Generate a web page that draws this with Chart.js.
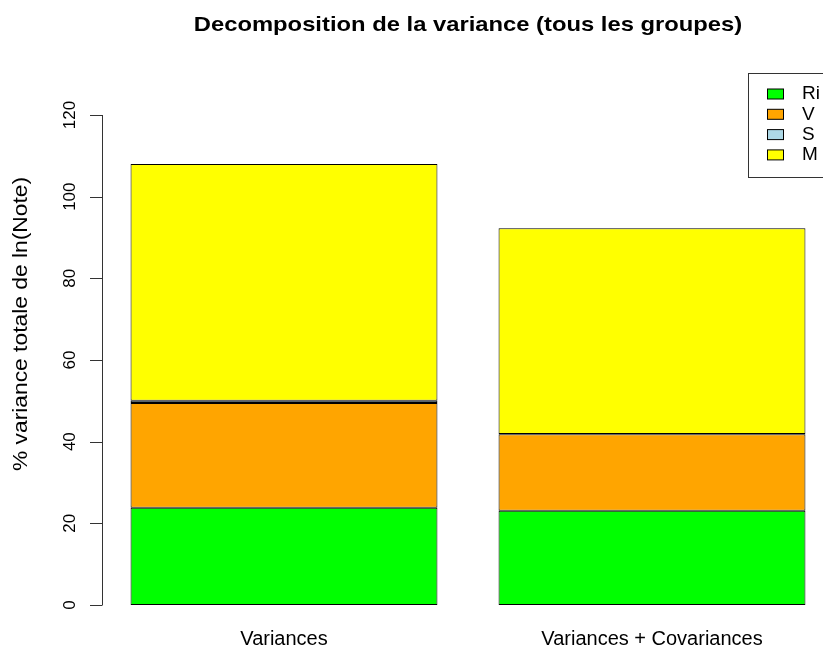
<!DOCTYPE html>
<html>
<head>
<meta charset="utf-8">
<script src="https://cdn.jsdelivr.net/npm/chart.js@4.4.1/dist/chart.umd.min.js"></script>
<style>
  html, body { margin: 0; padding: 0; background: #fff; overflow: hidden; }
  #wrap { width: 840px; height: 649px; }
</style>
</head>
<body>
<div id="wrap"><canvas id="chart" width="840" height="649"></canvas></div>
<script>
// Data
const categories = ["Variances", "Variances + Covariances"];
const seriesNames = ["Ri", "V", "S", "M"];
const riValues = [23.8, 23.1];
const vValues = [25.7, 18.7];
const sValues = [0.5, 0.05];
const mValues = [58.0, 50.4];
const seriesColors = ["#00FF00", "#FFA500", "#ADD8E6", "#FFFF00"];
const yTicks = [0, 20, 40, 60, 80, 100, 120];

const chartTitle = "Decomposition de la variance (tous les groupes)";
const yTitle = "% variance totale de ln(Note)";

const allValues = [riValues, vValues, sValues, mValues];
const fontFamily = "'Liberation Sans', Arial, sans-serif";

// draw text stretched along its own direction (the source image is a bit stretched)
function stretchedText(ctx, text, x, y, angle, stretch) {
  ctx.save();
  ctx.translate(x, y);
  ctx.rotate(angle);
  ctx.scale(stretch, 1);
  ctx.fillText(text, 0, 0);
  ctx.restore();
}

// R style y axis, title and legend drawn on the canvas
const rStylePlugin = {
  id: "rStyle",
  afterDraw(chart) {
    const ctx = chart.ctx;
    const area = chart.chartArea;
    const y = chart.scales.y;
    ctx.save();

    // title, centred over the plot region
    ctx.fillStyle = "#000";
    ctx.font = "bold 20.5px " + fontFamily;
    ctx.textAlign = "center";
    ctx.textBaseline = "middle";
    stretchedText(ctx, chartTitle, (area.left + area.right) / 2, 25, 0, 1.16);

    // y axis line and ticks
    const axisX = 102;
    ctx.strokeStyle = "#333";
    ctx.lineWidth = 1;
    ctx.beginPath();
    ctx.moveTo(axisX + 0.5, y.getPixelForValue(yTicks[0]));
    ctx.lineTo(axisX + 0.5, y.getPixelForValue(yTicks[yTicks.length - 1]));
    yTicks.forEach((t) => {
      const py = Math.round(y.getPixelForValue(t)) + 0.5;
      ctx.moveTo(axisX + 0.5, py);
      ctx.lineTo(axisX - 12, py);
    });
    ctx.stroke();

    // rotated tick labels
    ctx.font = "17px " + fontFamily;
    yTicks.forEach((t) => {
      stretchedText(ctx, String(t), 70, y.getPixelForValue(t), -Math.PI / 2, 1);
    });

    // y axis title
    ctx.font = "20px " + fontFamily;
    stretchedText(ctx, yTitle, 21, 324, -Math.PI / 2, 1.14);

    // legend box
    const lx = 748, ly = 73.5;
    ctx.strokeStyle = "#333";
    ctx.strokeRect(lx + 0.5, ly, 120, 104);
    ctx.font = "19px " + fontFamily;
    ctx.textAlign = "left";
    chart.data.datasets.forEach((ds, i) => {
      const cy = 94 + i * 20.3;
      ctx.fillStyle = ds.backgroundColor;
      ctx.fillRect(767.5, cy - 5, 16, 10);
      ctx.strokeStyle = "#000";
      ctx.strokeRect(767.5, cy - 5, 16, 10);
      ctx.fillStyle = "#000";
      ctx.fillText(ds.label, 802, cy);
    });

    ctx.restore();
  },
};

const datasets = seriesNames.map((name, i) => ({
  label: name,
  data: allValues[i],
  backgroundColor: seriesColors[i],
  borderColor: "#000",
  borderWidth: 1,
  borderSkipped: false,
  barPercentage: 0.834,
  categoryPercentage: 1,
}));

new Chart(document.getElementById("chart"), {
  type: "bar",
  data: { labels: categories, datasets: datasets },
  options: {
    responsive: false,
    devicePixelRatio: 1,
    animation: false,
    layout: { padding: { top: 115, right: 4, bottom: 0, left: 0 } },
    plugins: {
      legend: { display: false },
      title: { display: false },
      tooltip: { enabled: false },
    },
    scales: {
      x: {
        stacked: true,
        grid: { display: false, drawTicks: false },
        border: { display: false },
        ticks: {
          color: "#000",
          padding: 22,
          font: { family: fontFamily, size: 20 },
        },
        afterFit: (scale) => { scale.height = 44; },
      },
      y: {
        stacked: true,
        min: 0,
        max: 120,
        grid: { display: false, drawTicks: false },
        border: { display: false },
        ticks: { display: false, stepSize: 20 },
        afterFit: (scale) => { scale.width = 100; },
      },
    },
  },
  plugins: [rStylePlugin],
});
</script>
</body>
</html>
